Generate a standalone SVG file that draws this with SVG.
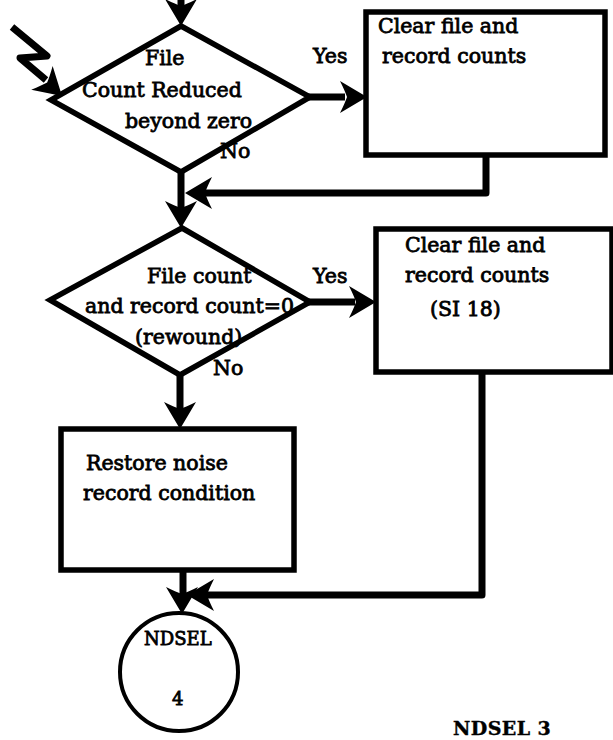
<svg xmlns="http://www.w3.org/2000/svg" width="613" height="740" viewBox="0 0 613 740">
  <style>
    .shape { fill: #fff; stroke: #000; stroke-width: 5.5; stroke-linejoin: miter; }
    .wire { fill: none; stroke: #000; stroke-width: 7; stroke-linejoin: round; }
    .lbl { font-family: "DejaVu Serif", "Liberation Serif", serif; font-size: 20.5px; fill: #000; stroke: #000; stroke-width: 0.8; }
    .lbl.small { font-size: 18px; }
    .lbl.page { font-size: 19px; font-weight: bold; stroke-width: 0.4; letter-spacing: 0.4px; }
    .head { fill: #000; }
  </style>
  <defs>
    <!-- arrowhead pointing right, tip at the origin -->
    <path id="ah" class="head" d="M0,0 L-27,-16 Q-22,-6 -20,0 Q-22,6 -27,16 Z"/>
  </defs>

  <rect width="613" height="740" fill="#fff"/>

  <g id="connectors">
    <!-- entry from above -->
    <line class="wire" x1="181" y1="0" x2="181" y2="12"/>
    <use href="#ah" transform="translate(181,26) rotate(90)"/>
    <!-- entry from the left (off-page break) -->
    <polyline class="wire" points="12,27 47,56 20,58 46,80"/>
    <use href="#ah" transform="translate(62,96) rotate(42)"/>
    <!-- decision 1 Yes -->
    <line class="wire" x1="308" y1="97" x2="345" y2="97"/>
    <use href="#ah" transform="translate(367,97)"/>
    <!-- box 1 back to main line -->
    <polyline class="wire" points="486,155 486,193 205,193"/>
    <use href="#ah" transform="translate(185,193) rotate(180)"/>
    <!-- decision 1 No -->
    <line class="wire" x1="181" y1="172" x2="181" y2="210"/>
    <use href="#ah" transform="translate(181,228) rotate(90)"/>
    <!-- decision 2 Yes -->
    <line class="wire" x1="308" y1="302" x2="355" y2="302"/>
    <use href="#ah" transform="translate(376,302)"/>
    <!-- decision 2 No -->
    <line class="wire" x1="180" y1="375" x2="180" y2="410"/>
    <use href="#ah" transform="translate(180,429) rotate(90)"/>
    <!-- box 2 down to the exit -->
    <polyline class="wire" points="482,372 482,595 205,595"/>
    <use href="#ah" transform="translate(187,595) rotate(180)"/>
    <!-- box 3 to exit connector -->
    <line class="wire" x1="183" y1="570" x2="183" y2="597"/>
    <use href="#ah" transform="translate(182,614) rotate(90)"/>
  </g>

  <g id="decision1">
    <polygon class="shape" points="181,26 310,97 181,172 51,100"/>
    <text class="lbl" x="145" y="65">File</text>
    <text class="lbl" x="82" y="97">Count Reduced</text>
    <text class="lbl" x="125" y="128">beyond zero</text>
    <text class="lbl" x="220" y="158">No</text>
  </g>
  <text class="lbl" x="313" y="63">Yes</text>

  <g id="clear1">
    <rect class="shape" x="366" y="12" width="239" height="143"/>
    <text class="lbl" x="378" y="33">Clear file and</text>
    <text class="lbl" x="382" y="63">record counts</text>
  </g>

  <g id="decision2">
    <polygon class="shape" points="182,228 310,302 180,375 50,300"/>
    <text class="lbl" x="147" y="283">File count</text>
    <text class="lbl" x="85" y="313">and record count=0</text>
    <text class="lbl" x="135" y="344">(rewound)</text>
    <text class="lbl" x="213" y="375">No</text>
  </g>
  <text class="lbl" x="313" y="283">Yes</text>

  <g id="clear2">
    <rect class="shape" x="376" y="229" width="236" height="143"/>
    <text class="lbl" x="405" y="252">Clear file and</text>
    <text class="lbl" x="405" y="282">record counts</text>
    <text class="lbl" x="430" y="316">(SI 18)</text>
  </g>

  <g id="restore">
    <rect class="shape" x="61" y="429" width="233" height="141"/>
    <text class="lbl" x="86" y="470">Restore noise</text>
    <text class="lbl" x="83" y="500">record condition</text>
  </g>

  <g id="exit">
    <circle cx="179" cy="672" r="59" fill="#fff" stroke="#000" stroke-width="4"/>
    <text class="lbl small" x="144" y="645">NDSEL</text>
    <text class="lbl small" x="172" y="705">4</text>
  </g>

  <text class="lbl page" x="453" y="735">NDSEL  3</text>
</svg>
